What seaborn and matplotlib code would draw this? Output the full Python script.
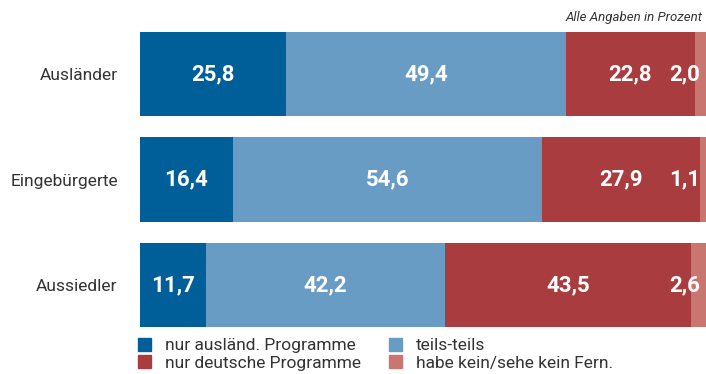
import matplotlib
matplotlib.use("Agg")
import matplotlib.pyplot as plt
import matplotlib.patches as mpatches
import seaborn as sns
import pandas as pd
import numpy as np

categories = ["Ausländer", "Eingebürgerte", "Aussiedler"]
series_names = ["nur ausländ. Programme", "teils-teils",
                "nur deutsche Programme", "habe kein/sehe kein Fern."]
nur_auslaend = [25.8, 16.4, 11.7]
teils_teils = [49.4, 54.6, 42.2]
nur_deutsch = [22.8, 27.9, 43.5]
kein_fern = [2.0, 1.1, 2.6]
colors = ["#005f99", "#699cc4", "#a93c3f", "#c97570"]

sns.set_theme(style="white")
plt.rcParams["font.family"] = ["Roboto", "DejaVu Sans"]

values = np.array([nur_auslaend, teils_teils, nur_deutsch, kein_fern])
cum = values.cumsum(axis=0)

fig = plt.figure(figsize=(7.06, 3.74), dpi=100)
ax = fig.add_axes([140 / 706, 1 - 327 / 374, 1 - 140 / 706, (327 - 32) / 374])

# stacked bars: draw cumulative totals from the outermost layer inwards
for i in range(len(series_names) - 1, -1, -1):
    df = pd.DataFrame({"Kategorie": categories, "Wert": cum[i]})
    sns.barplot(data=df, y="Kategorie", x="Wert", orient="h", color=colors[i],
                saturation=1, width=0.8, linewidth=0, ax=ax, order=categories)

for j, cat in enumerate(categories):
    for i in range(len(series_names)):
        v = values[i, j]
        label = f"{v:.1f}".replace(".", ",")
        if i == len(series_names) - 1:
            # the thin last segment gets its value just left of the bar end
            ax.text(98.9, j, label, ha="right", va="center",
                    color="white", fontsize=16, fontweight="bold")
        else:
            center = cum[i, j] - v / 2
            ax.text(center, j, label, ha="center", va="center",
                    color="white", fontsize=16, fontweight="bold")

ax.set_xlim(0, 100)
ax.set_ylim(2.4, -0.4)
ax.set_xlabel("")
ax.set_ylabel("")
ax.set_xticks([])
ax.tick_params(axis="y", length=0, pad=16, labelsize=12.5, labelcolor="#333333")
for s in ax.spines.values():
    s.set_visible(False)

fig.text(703 / 706, 1 - 17 / 374, "Alle Angaben in Prozent", ha="right", va="center",
         fontsize=9.5, style="italic", color="#333333")

order = [0, 2, 1, 3]
handles = [mpatches.Patch(color=colors[k], label=series_names[k]) for k in order]
fig.legend(handles=handles, loc="upper left", bbox_to_anchor=(138 / 706, 1 - 338 / 374),
           ncol=2, frameon=False, fontsize=12.5, handlelength=0.75, handleheight=0.75,
           handletextpad=0.8, columnspacing=1.6, labelspacing=0.12,
           labelcolor="#333333", borderpad=0, borderaxespad=0)

fig.savefig("out.png", dpi=100)
